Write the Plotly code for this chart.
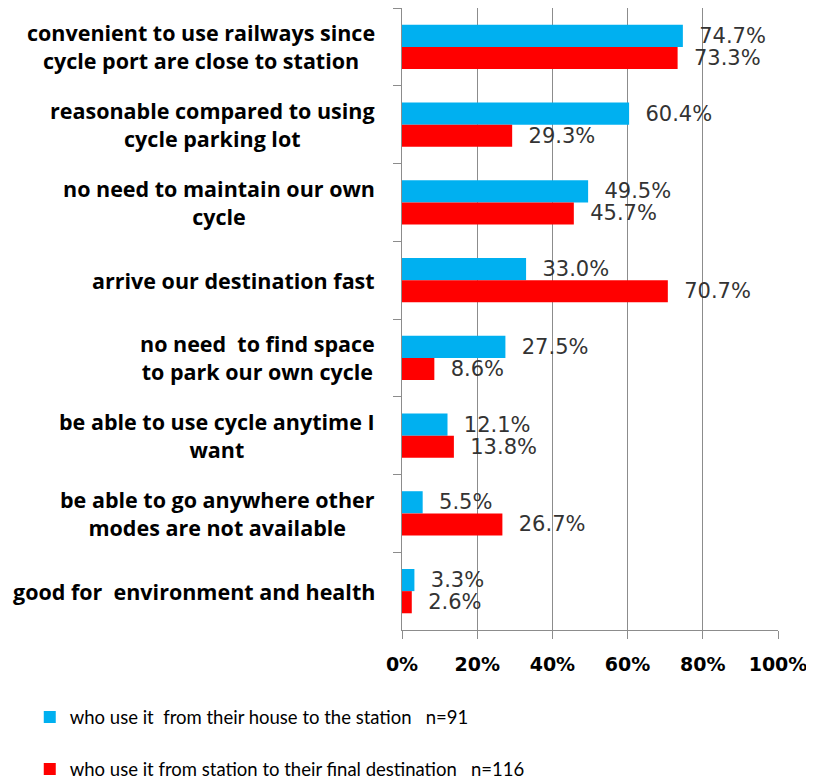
import plotly.graph_objects as go

categories = [
    "convenient to use railways since<br>cycle port are close to station",
    "reasonable compared to using<br>cycle parking lot",
    "no need to maintain our own<br>cycle",
    "arrive our destination fast",
    "no need  to find space<br>to park our own cycle",
    "be able to use cycle anytime I<br>want",
    "be able to go anywhere other<br>modes are not available",
    "good for  environment and health",
]
house_to_station = [74.7, 60.4, 49.5, 33.0, 27.5, 12.1, 5.5, 3.3]
station_to_dest = [73.3, 29.3, 45.7, 70.7, 8.6, 13.8, 26.7, 2.6]
series_names = [
    "who use it  from their house to the station   n=91",
    "who use it from station to their final destination   n=116",
]
x_ticks = [0, 20, 40, 60, 80, 100]
x_ticklabels = ["0%", "20%", "40%", "60%", "80%", "100%"]

BLUE = "#00B0F0"
RED = "#FF0000"
LABEL_FONT = dict(family="DejaVu Sans", size=21, color="#333333")

fig = go.Figure()
fig.add_trace(go.Bar(
    y=categories, x=house_to_station, orientation="h", name=series_names[0],
    marker=dict(color=BLUE, line=dict(width=0)),
    text=[f"  {v:.1f}%" for v in house_to_station], textposition="outside",
    textfont=LABEL_FONT, cliponaxis=False, constraintext="none", legendgroup="a",
))
fig.add_trace(go.Bar(
    y=categories, x=station_to_dest, orientation="h", name=series_names[1],
    marker=dict(color=RED, line=dict(width=0)),
    text=[f"  {v:.1f}%" for v in station_to_dest], textposition="outside",
    textfont=LABEL_FONT, cliponaxis=False, constraintext="none", legendgroup="b",
))

for c in categories:
    fig.add_annotation(
        xref="paper", yref="y", x=-0.067, y=c, text=f"<b>{c}</b>",
        showarrow=False, xanchor="right", yanchor="middle", align="center",
        font=dict(family="Open Sans", size=21.5, color="#000000"),
    )

# page body has an 8px default margin, so the figure is sized/placed to compensate
fig.update_layout(
    width=806, height=774,
    margin=dict(l=394, r=36, t=0, b=152),
    paper_bgcolor="white", plot_bgcolor="white",
    barmode="group", bargap=0.43, bargroupgap=0,
    showlegend=True,
    legend=dict(
        xref="paper", yref="container",
        x=-0.99, y=0.108, xanchor="left", yanchor="top",
        font=dict(family="Lato", size=18.5, color="#000000"),
        traceorder="grouped", tracegroupgap=25, itemwidth=30,
        bgcolor="rgba(0,0,0,0)",
    ),
    uniformtext=dict(mode=False),
)
fig.update_xaxes(
    range=[0, 100], tickvals=x_ticks, ticktext=[f"<b>{t}</b>" for t in x_ticklabels],
    tickangle=0,
    showgrid=True, gridcolor="#8c8c8c", gridwidth=1,
    showline=True, linecolor="#8c8c8c", linewidth=1,
    ticks="outside", ticklen=8, tickcolor="#8c8c8c",
    tickfont=dict(family="DejaVu Sans", size=19, color="#000000"),
    ticklabelstandoff=9, zeroline=False, fixedrange=True, automargin=False,
)
fig.update_yaxes(
    autorange="reversed", showticklabels=False,
    showline=True, linecolor="#8c8c8c", linewidth=1,
    ticks="outside", ticklen=8, tickcolor="#8c8c8c", tickson="boundaries",
    showgrid=False, fixedrange=True, automargin=False,
)

fig.write_html("out.html")
